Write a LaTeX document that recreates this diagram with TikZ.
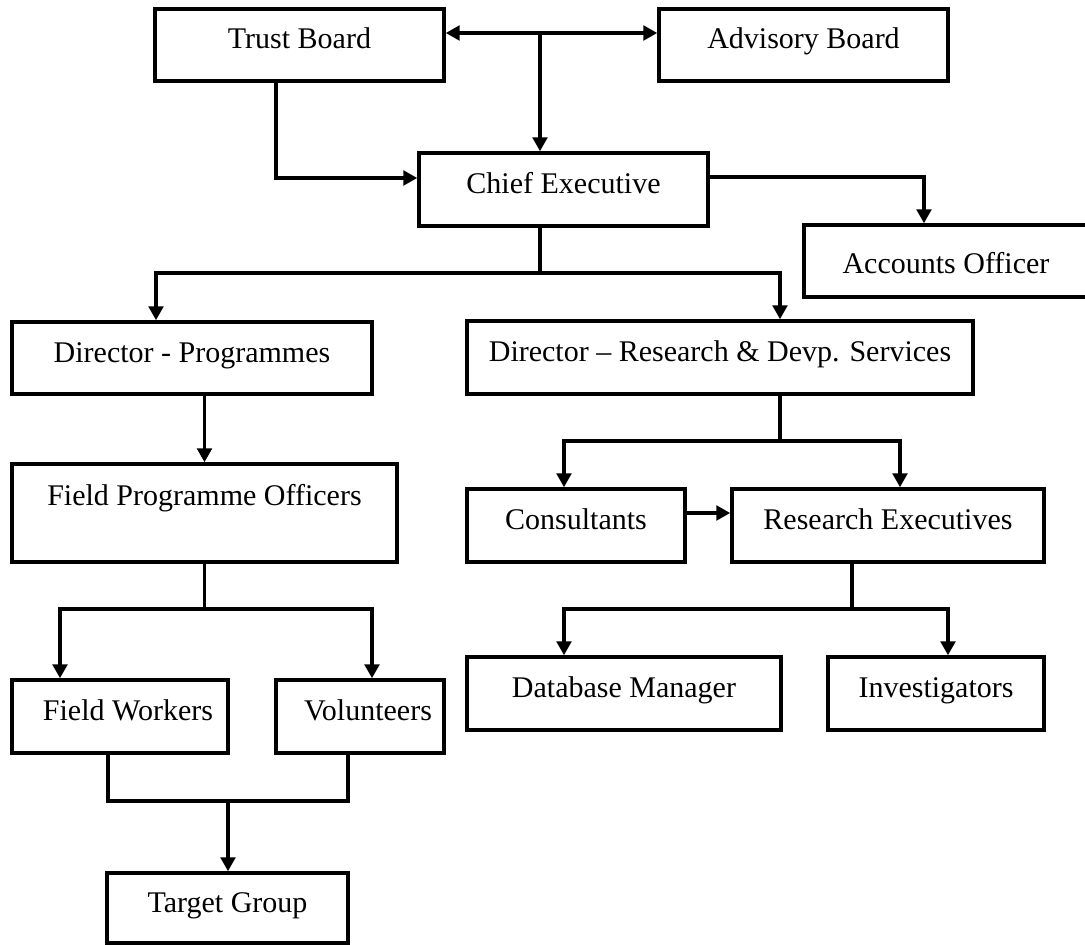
\documentclass[tikz,border=0pt]{standalone}
\usepackage{fontspec}
\setmainfont{Liberation Serif}
\usetikzlibrary{arrows.meta}
\usetikzlibrary{calc}

\begin{document}
\begin{tikzpicture}[x=0.75pt, y=-0.75pt,
    unit/.style={draw=black, rectangle, line width=2.6pt, inner sep=0pt, text height=15pt, text depth=9pt, font=\fontsize{22.5}{27}\selectfont},
    link/.style={line width=2.6pt, line cap=rect},
    flow/.style={link, -{Triangle[length=10.5pt, width=11pt]}}
]
    \useasboundingbox (0,0) rectangle (1085,945);

    % Boards and chief
    \node[unit, minimum width=216.75pt, minimum height=54pt] (TB) at (299.5,45) {Trust Board};
    \node[unit, minimum width=216.75pt, minimum height=54pt] (AB) at (803.5,45) {Advisory Board};
    \node[unit, minimum width=216.75pt, minimum height=54.75pt] (CE) at (563.5,189.5) {Chief Executive};
    \node[unit, minimum width=213pt, minimum height=54pt, text height=27pt] (AO) at (946,261) {Accounts Officer};

    % Directors
    \node[unit, minimum width=270pt, minimum height=54pt] (DP) at (192,358) {Director - Programmes};
    \node[unit, minimum width=379.5pt, minimum height=54.75pt] (DR) at (720,357.5) {Director – Research \& Devp. Services};

    % Programme side
    \node[unit, minimum width=288.75pt, minimum height=73.5pt, text depth=27pt] (FP) at (204.5,513) {Field Programme Officers};
    \node[unit, minimum width=162pt, minimum height=54.75pt] (FW) at (120,716.5) {\hspace*{12pt}Field Workers};
    \node[unit, minimum width=126pt, minimum height=54.75pt] (VO) at (360,716.5) {\hspace*{12pt}Volunteers};
    \node[unit, minimum width=180.75pt, minimum height=52.5pt] (TG) at (227.5,908) {Target Group};

    % Research side
    \node[unit, minimum width=163.5pt, minimum height=54.75pt] (CO) at (576,525.5) {Consultants};
    \node[unit, minimum width=234pt, minimum height=54.75pt] (RE) at (888,525.5) {Research Executives};
    \node[unit, minimum width=235.5pt, minimum height=54.75pt] (DM) at (624,693.5) {Database Manager};
    \node[unit, minimum width=162pt, minimum height=54.75pt] (IN) at (936,693.5) {Investigators};

    % Top connectors
    \coordinate (J1) at (540,33);
    \draw[link, {Triangle[length=10.5pt, width=11pt]}-{Triangle[length=10.5pt, width=11pt]}] (TB.east |- J1) -- (AB.west |- J1);
    \draw[flow] (J1) -- (J1 |- CE.north);
    \coordinate (J2) at (276,178);
    \draw[flow] (TB.south -| J2) |- (CE.west |- J2);
    \coordinate (J3) at (924,177);
    \draw[flow] (CE.east |- J3) -| (AO.north -| J3);

    % Chief to directors
    \coordinate (J4) at (540,273);
    \draw[link] (CE.south -| J4) -- (J4);
    \draw[flow] (J4) -| ($(DP.north)+(-36,0)$);
    \draw[flow] (J4) -| ($(DR.north)+(60,0)$);

    % Programme branch
    \draw[flow] (DP.south -| FP.north) -- (FP.north);
    \coordinate (J5) at (204.5,609);
    \draw[link] (FP.south) -- (J5);
    \draw[flow] (J5) -| ($(FW.north)+(-60,0)$);
    \draw[flow] (J5) -| ($(VO.north)+(12,0)$);
    \coordinate (J6) at (228,801);
    \draw[link] ($(FW.south)+(-12,0)$) |- (J6) -| ($(VO.south)+(-12,0)$);
    \draw[flow] (J6) -- (J6 |- TG.north);

    % Research branch
    \coordinate (J7) at (780,441);
    \draw[link] (DR.south -| J7) -- (J7);
    \draw[flow] (J7) -| ($(CO.north)+(-12,0)$);
    \draw[flow] (J7) -| ($(RE.north)+(12,0)$);
    \draw[flow] ($(CO.east)+(0,-12.5)$) -- ($(RE.west)+(0,-12.5)$);
    \coordinate (J8) at (852,609);
    \draw[link] (RE.south -| J8) -- (J8);
    \draw[flow] (J8) -| ($(DM.north)+(-60,0)$);
    \draw[flow] (J8) -| ($(IN.north)+(12,0)$);
\end{tikzpicture}
\end{document}
